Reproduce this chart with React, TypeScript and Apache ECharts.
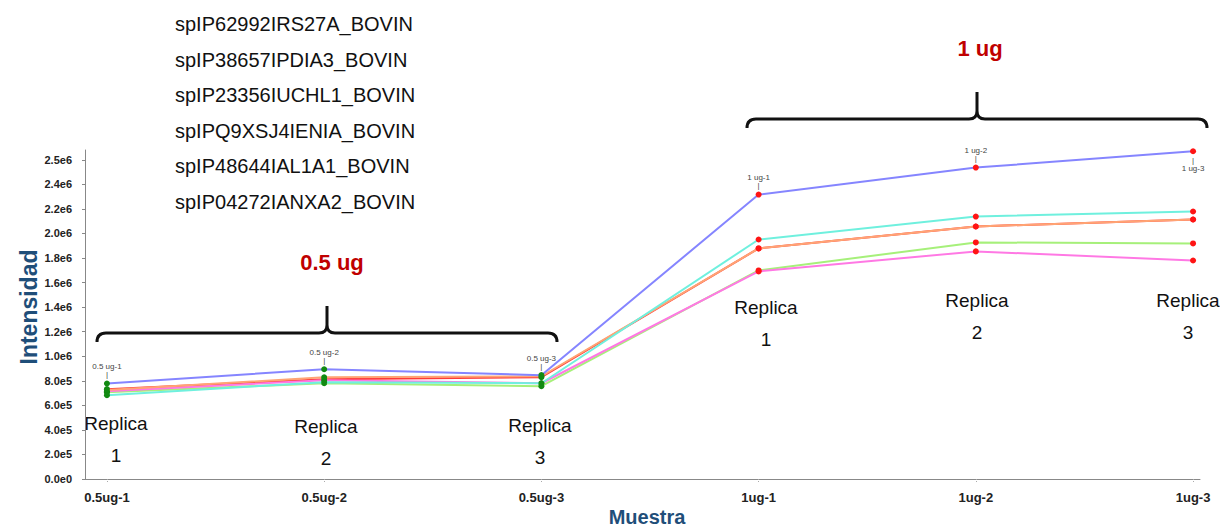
import React, { useEffect, useRef } from "react";
import * as echarts from "echarts";

// Samples along the x axis
const categories = ["0.5ug-1", "0.5ug-2", "0.5ug-3", "1ug-1", "1ug-2", "1ug-3"];
const sampleTags = ["0.5 ug-1", "0.5 ug-2", "0.5 ug-3", "1 ug-1", "1 ug-2", "1 ug-3"];

// Protein names (series)
const proteins = [
  "spIP62992IRS27A_BOVIN",
  "spIP38657IPDIA3_BOVIN",
  "spIP23356IUCHL1_BOVIN",
  "spIPQ9XSJ4IENIA_BOVIN",
  "spIP48644IAL1A1_BOVIN",
  "spIP04272IANXA2_BOVIN",
];

// Intensity per sample
const rs27a = [7.78e5, 8.94e5, 8.46e5, 2.317e6, 2.537e6, 2.67e6];
const pdia3 = [6.83e5, 7.89e5, 7.8e5, 1.951e6, 2.138e6, 2.179e6];
const uchl1 = [7.24e5, 8.29e5, 8.37e5, 1.878e6, 2.057e6, 2.114e6];
const enia = [7.07e5, 7.8e5, 7.56e5, 1.699e6, 1.927e6, 1.919e6];
const al1a1 = [7.15e5, 8.05e5, 7.8e5, 1.691e6, 1.854e6, 1.78e6];
const anxa2 = [7.32e5, 8.13e5, 8.29e5, 1.878e6, 2.057e6, 2.114e6];

const seriesValues = [rs27a, pdia3, uchl1, enia, al1a1, anxa2];
const lineColors = ["#8585ff", "#6ff0de", "#ffa474", "#a6f07a", "#ff78e4", "#ff3a3a"];
const seriesZ = [6, 5, 4, 3, 3, 2];

// Y axis ticks and their printed labels
const yTickValues = [0, 2e5, 4e5, 6e5, 8e5, 1e6, 1.2e6, 1.4e6, 1.6e6, 1.8e6, 2e6, 2.2e6, 2.4e6, 2.6e6];
const yTickLabels = ["0.0e0", "2.0e5", "4.0e5", "6.0e5", "8.0e5", "1.0e6", "1.2e6", "1.4e6", "1.6e6", "1.8e6", "2.0e6", "2.2e6", "2.4e6", "2.5e6"];
const xTickValues = [0, 1, 2, 3, 4, 5];

// Axis titles and group annotations
const yTitle = "Intensidad";
const xTitle = "Muestra";
const groupTitles = ["0.5 ug", "1 ug"];
const replicaNames = ["Replica\n1", "Replica\n2", "Replica\n3", "Replica\n1", "Replica\n2", "Replica\n3"];

// Curly brace (460 px wide, stub pointing up)
const BRACE_D =
  "M0,9 Q0,0 9,0 L222,0 Q230,0 230,-8 L230,-27 M230,-8 Q230,0 238,0 L451,0 Q460,0 460,9";
echarts.graphic.registerShape("brace", echarts.graphic.extendPath(BRACE_D, {}));

const GREEN_MARK = "#128a12";
const RED_MARK = "#ff1414";
const TITLE_BLUE = "#1f4e79";

export default function App() {
  const ref = useRef<HTMLDivElement>(null);

  useEffect(() => {
    if (!ref.current) return;
    const chart = echarts.init(ref.current, undefined, { renderer: "svg" });

    const series = proteins.map((name, s) => ({
      name,
      type: "line",
      z: seriesZ[s],
      symbol: "circle",
      symbolSize: 6,
      lineStyle: { color: lineColors[s], width: 2 },
      color: lineColors[s],
      data: seriesValues[s].map((v, i) => {
        const item: any = {
          value: [i, v],
          itemStyle: { color: i < 3 ? GREEN_MARK : RED_MARK },
        };
        if (s === 0) {
          const below = i === 5;
          item.label = {
            show: true,
            position: below ? "bottom" : "top",
            distance: 2,
            formatter: below ? "|\n" + sampleTags[i] : sampleTags[i] + "\n|",
            fontSize: 8,
            lineHeight: 8,
            color: "#444444",
            textBorderWidth: 0,
            fontFamily: "Liberation Sans",
          };
        }
        return item;
      }),
    }));

    const replicaX = [116, 326, 540, 766, 977, 1188];
    const replicaY = [439, 442, 441, 323, 316, 316];

    const graphics: any[] = [
      { type: "brace", x: 97, y: 333, style: { stroke: "#111", lineWidth: 3, fill: "none" } },
      { type: "brace", x: 747, y: 119, style: { stroke: "#111", lineWidth: 3, fill: "none" } },
      {
        type: "text",
        x: 29,
        y: 307,
        rotation: Math.PI / 2,
        style: {
          text: yTitle,
          fill: TITLE_BLUE,
          font: "bold 23px 'Liberation Sans'",
          textAlign: "center",
          textVerticalAlign: "middle",
        },
      },
      {
        type: "text",
        x: 647,
        y: 517,
        style: {
          text: xTitle,
          fill: TITLE_BLUE,
          font: "bold 20px 'Liberation Sans'",
          textAlign: "center",
          textVerticalAlign: "middle",
        },
      },
      {
        type: "text",
        x: 332,
        y: 262,
        style: {
          text: groupTitles[0],
          fill: "#c00000",
          font: "bold 22px 'Liberation Sans'",
          textAlign: "center",
          textVerticalAlign: "middle",
        },
      },
      {
        type: "text",
        x: 980,
        y: 48,
        style: {
          text: groupTitles[1],
          fill: "#c00000",
          font: "bold 22px 'Liberation Sans'",
          textAlign: "center",
          textVerticalAlign: "middle",
        },
      },
      ...replicaNames.map((t, i) => ({
        type: "text",
        x: replicaX[i],
        y: replicaY[i],
        style: {
          text: t,
          fill: "#111",
          font: "19px 'Liberation Sans'",
          lineHeight: 32,
          textAlign: "center",
          textVerticalAlign: "middle",
        },
      })),
    ];

    chart.setOption({
      animation: false,
      backgroundColor: "#ffffff",
      legend: {
        orient: "vertical",
        left: 165,
        top: 7,
        icon: "none",
        itemWidth: 0,
        itemHeight: 24,
        itemGap: 11.5,
        selectedMode: false,
        textStyle: { fontSize: 20, color: "#111", fontFamily: "Liberation Sans", lineHeight: 24 },
        data: proteins,
      },
      grid: { left: 85, right: 20, top: 150, bottom: 50, containLabel: false },
      xAxis: {
        type: "value",
        min: -0.101,
        max: 5.032,
        axisLine: { show: true, onZero: false, lineStyle: { color: "#888", width: 1 } },
        axisTick: { show: true, length: 4, customValues: xTickValues, lineStyle: { color: "#aaa", type: "dotted" } },
        axisLabel: {
          customValues: xTickValues,
          formatter: (v: number) => categories[Math.round(v)] ?? "",
          margin: 12,
          fontSize: 13,
          fontWeight: "bold",
          color: "#222",
          fontFamily: "Liberation Sans",
        },
        splitLine: { show: false },
      },
      yAxis: {
        type: "value",
        min: 0,
        max: 2.68e6,
        axisLine: { show: true, onZero: false, lineStyle: { color: "#888", width: 1 } },
        axisTick: { show: true, length: 3, customValues: yTickValues, lineStyle: { color: "#888" } },
        axisLabel: {
          customValues: yTickValues,
          formatter: (v: number) => {
            const idx = yTickValues.findIndex((t) => Math.abs(t - v) < 1);
            return idx >= 0 ? yTickLabels[idx] : "";
          },
          margin: 13,
          fontSize: 11,
          fontWeight: "bold",
          color: "#222",
          fontFamily: "Liberation Sans",
        },
        splitLine: { show: false },
      },
      graphic: graphics,
      series,
    });

    return () => chart.dispose();
  }, []);

  return (
    <div
      ref={ref}
      style={{ position: "fixed", left: 0, top: 0, width: 1220, height: 529, background: "#fff" }}
    />
  );
}
